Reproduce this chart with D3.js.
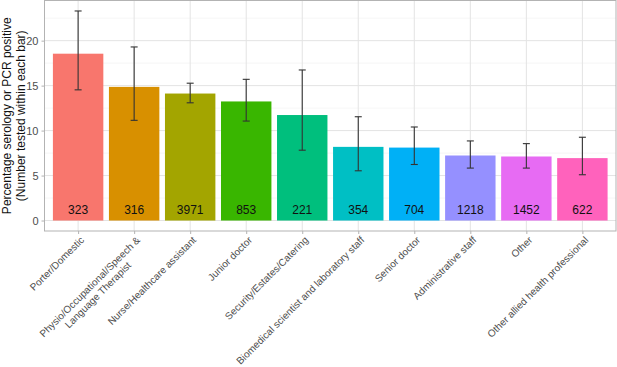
<!DOCTYPE html>
<html>
<head>
<meta charset="utf-8">
<script src="https://cdn.jsdelivr.net/npm/d3@7"></script>
<style>
  body { margin: 0; background: #fff; }
  svg { display: block; font-family: "Liberation Sans", Arial, sans-serif; }
</style>
</head>
<body>
<svg id="chart" width="617" height="367"></svg>
<script>
// staff groups, in plotted order
const groups = [
    "Porter/Domestic",
    "Physio/Occupational/Speech &\nLanguage Therapist",
    "Nurse/Healthcare assistant",
    "Junior doctor",
    "Security/Estates/Catering",
    "Biomedical scientist and laboratory staff",
    "Senior doctor",
    "Administrative staff",
    "Other",
    "Other allied health professional"
];
const pctPositive = [18.55, 14.86, 14.12, 13.24, 11.73, 8.19, 8.11, 7.23, 7.12, 6.94];
const lowerCI = [14.53, 11.14, 13.09, 11.06, 7.82, 5.53, 6.23, 5.83, 5.83, 5.09];
const upperCI = [23.3, 19.3, 15.27, 15.7, 16.74, 11.54, 10.4, 8.85, 8.55, 9.26];
const nTested = [323, 316, 3971, 853, 221, 354, 704, 1218, 1452, 622];
const barColors = ["#F8766D", "#D89000", "#A3A500", "#39B600", "#00BF7D",
    "#00BFC4", "#00B0F6", "#9590FF", "#E76BF3", "#FF62BC"];
const yTicks = [0, 5, 10, 15, 20];
const yMinor = [2.5, 7.5, 12.5, 17.5, 22.5];

const svg = d3.select("#chart");
const panelLeft = 44.5, panelRight = 616, panelTop = 0.5, panelBottom = 231;

let data = groups.map(function (g, i) {
    return {group: g, pct: pctPositive[i], lo: lowerCI[i], hi: upperCI[i], n: nTested[i], color: barColors[i]};
});

// ggplot style expansion: 5% continuous, 0.6 units discrete
let yMax = d3.max(upperCI);
let yScale = d3.scaleLinear()
    .domain([-0.05 * yMax, yMax * 1.05])
    .range([panelBottom, panelTop]);

let xScale = d3.scalePoint()
    .domain(groups)
    .range([panelLeft, panelRight])
    .padding(0.6);
let barWidth = xScale.step() * 0.9;

// grid
let grid = svg.append("g");
grid.selectAll(".minor").data(yMinor.filter(function (d) { return yScale(d) > panelTop; }))
    .enter().append("line")
    .attr("x1", panelLeft).attr("x2", panelRight)
    .attr("y1", function (d) { return yScale(d); })
    .attr("y2", function (d) { return yScale(d); })
    .attr("stroke", "#f0f0f0").attr("stroke-width", 0.6);
grid.selectAll(".major").data(yTicks)
    .enter().append("line")
    .attr("x1", panelLeft).attr("x2", panelRight)
    .attr("y1", function (d) { return yScale(d); })
    .attr("y2", function (d) { return yScale(d); })
    .attr("stroke", "#e3e3e3").attr("stroke-width", 1);
grid.selectAll(".vert").data(groups)
    .enter().append("line")
    .attr("x1", function (d) { return xScale(d); })
    .attr("x2", function (d) { return xScale(d); })
    .attr("y1", panelTop).attr("y2", panelBottom)
    .attr("stroke", "#e3e3e3").attr("stroke-width", 1);

// bars
svg.append("g").selectAll("rect").data(data)
    .enter().append("rect")
    .attr("x", function (d) { return xScale(d.group) - barWidth / 2; })
    .attr("width", barWidth)
    .attr("y", function (d) { return yScale(d.pct); })
    .attr("height", function (d) { return yScale(0) - yScale(d.pct); })
    .attr("fill", function (d) { return d.color; });

// error bars
let errs = svg.append("g").attr("stroke", "#333").attr("stroke-width", 1.1);
data.forEach(function (d) {
    let cx = xScale(d.group);
    errs.append("line").attr("x1", cx).attr("x2", cx)
        .attr("y1", yScale(d.lo)).attr("y2", yScale(d.hi));
    [d.lo, d.hi].forEach(function (v) {
        errs.append("line").attr("x1", cx - 3.5).attr("x2", cx + 3.5)
            .attr("y1", yScale(v)).attr("y2", yScale(v));
    });
});

// counts
svg.append("g").selectAll("text").data(data)
    .enter().append("text")
    .attr("x", function (d) { return xScale(d.group); })
    .attr("y", yScale(0) - 7)
    .attr("text-anchor", "middle")
    .attr("font-size", "12px")
    .attr("fill", "#111")
    .text(function (d) { return d.n; });

// panel border
svg.append("rect")
    .attr("x", panelLeft).attr("y", panelTop)
    .attr("width", panelRight - panelLeft).attr("height", panelBottom - panelTop)
    .attr("fill", "none").attr("stroke", "#b3b3b3").attr("stroke-width", 1);

// y axis
let yAxis = d3.axisLeft(yScale).tickValues(yTicks).tickSize(3).tickPadding(3);
let yg = svg.append("g").attr("transform", "translate(" + panelLeft + ",0)").call(yAxis);
yg.select(".domain").remove();
yg.selectAll("line").attr("stroke", "#b3b3b3");
yg.selectAll("text").attr("fill", "#4d4d4d").attr("font-size", "11px")
    .attr("font-family", "Liberation Sans, Arial, sans-serif");

// x axis ticks
let xAxis = d3.axisBottom(xScale).tickSize(3).tickFormat("");
let xg = svg.append("g").attr("transform", "translate(0," + panelBottom + ")").call(xAxis);
xg.select(".domain").remove();
xg.selectAll("line").attr("stroke", "#b3b3b3");

// rotated x labels, multi-line centred within the block
let labels = svg.append("g").attr("font-size", "10px").attr("fill", "#4d4d4d");
groups.forEach(function (g) {
    let lines = g.split("\n");
    let lab = labels.append("g")
        .attr("transform", "translate(" + (xScale(g) + 1) + "," + (panelBottom + 4) + ") rotate(-45)");
    let texts = lines.map(function (s, j) {
        return lab.append("text").attr("y", 8 + j * 11.5).text(s);
    });
    let widths = texts.map(function (t) { return t.node().getComputedTextLength(); });
    let w = d3.max(widths);
    texts.forEach(function (t) {
        t.attr("text-anchor", "middle").attr("x", -w / 2);
    });
});

// y title
svg.append("text")
    .attr("transform", "translate(0," + ((panelTop + panelBottom) / 2) + ") rotate(-90)")
    .attr("text-anchor", "middle")
    .attr("font-size", "12px")
    .attr("fill", "#111")
    .selectAll("tspan")
    .data(["Percentage serology or PCR positive", "(Number tested within each bar)"])
    .enter().append("tspan")
    .attr("x", 0)
    .attr("y", function (d, i) { return 11 + i * 13.5; })
    .text(function (d) { return d; });
</script>
</body>
</html>
